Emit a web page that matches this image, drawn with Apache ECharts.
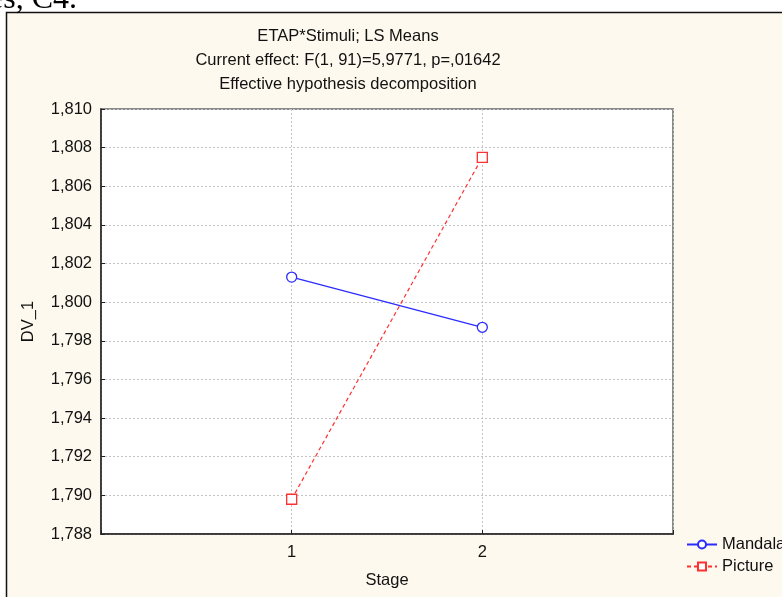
<!DOCTYPE html>
<html lang="en">
<head>
    <meta charset="utf-8">
    <title>ETAP*Stimuli; LS Means</title>
    <script src="https://cdn.jsdelivr.net/npm/echarts@6/dist/echarts.min.js"></script>
    <style>
        html, body { margin: 0; padding: 0; background: #fff; }
        #container { width: 782px; height: 597px; }
    </style>
</head>
<body>
<div id="container"></div>
<script>
    // data
    var stages = [1, 2];
    var stageLabels = ['1', '2'];
    var seriesNames = ['Mandala', 'Picture'];
    var mandala = [1.8013, 1.7987];
    var picture = [1.7898, 1.8075];
    var titleLines = [
        'ETAP*Stimuli; LS Means',
        'Current effect: F(1, 91)=5,9771, p=,01642',
        'Effective hypothesis decomposition'
    ];

    function pairs(vals) {
        return stages.map(function (s, i) { return [s, vals[i]]; });
    }

    var font = 'Liberation Sans, Arial, sans-serif';
    var fs = 16.5;
    var myChart = echarts.init(document.getElementById('container'));

    var option = {
        animation: false,
        backgroundColor: '#fff',
        textStyle: { fontFamily: font },
        graphic: [
            {
                type: 'rect', z: -10, silent: true,
                shape: { x: 6.5, y: 12.5, width: 800, height: 600 },
                style: { fill: '#fef9ee', stroke: '#111', lineWidth: 1.5 }
            },
            {
                type: 'text', left: -11, top: -16, silent: true,
                style: { text: 'es, C4.', font: '32px "Liberation Serif", "Times New Roman", serif', fill: '#000' }
            },
            {
                type: 'text', silent: true,
                x: 348, y: 24,
                style: {
                    text: titleLines.join('\n'), font: fs + 'px ' + font, fill: '#111',
                    align: 'center', lineHeight: 24
                }
            }
        ],
        grid: {
            left: 101, top: 109, width: 572, height: 425,
            show: true, backgroundColor: '#fff', borderColor: '#8a8a8a', borderWidth: 2
        },
        legend: {
            orient: 'vertical', left: 681, top: 531,
            itemWidth: 30, itemHeight: 10, itemGap: 5,
            data: seriesNames,
            textStyle: { fontSize: fs, color: '#111', fontFamily: font }
        },
        xAxis: {
            type: 'value', min: 0, max: 3, interval: 1,
            name: 'Stage', nameLocation: 'middle', nameGap: 38,
            nameTextStyle: { fontSize: fs, color: '#111' },
            axisLine: { lineStyle: { color: '#222', width: 1.5 } },
            axisTick: { inside: true, length: 4, lineStyle: { color: '#222' } },
            axisLabel: {
                fontSize: fs, color: '#111', margin: 10,
                formatter: function (v) {
                    var i = stages.indexOf(v);
                    return i >= 0 ? stageLabels[i] : '';
                }
            },
            splitLine: { lineStyle: { color: '#c4c4c4', type: [2, 2] } }
        },
        yAxis: {
            type: 'value', min: 1.788, max: 1.810, interval: 0.002,
            name: 'DV_1', nameLocation: 'middle', nameGap: 64,
            nameTextStyle: { fontSize: fs, color: '#111' },
            axisLine: { show: true, lineStyle: { color: '#222', width: 1.5 } },
            axisTick: { show: true, inside: true, length: 4, lineStyle: { color: '#222' } },
            axisLabel: {
                fontSize: fs, color: '#111', margin: 9,
                formatter: function (v) { return v.toFixed(3).replace('.', ','); }
            },
            splitLine: { lineStyle: { color: '#c4c4c4', type: [2, 2] } }
        },
        series: [
            {
                name: seriesNames[0], type: 'line', data: pairs(mandala),
                symbol: 'circle', symbolSize: 10, showAllSymbol: true,
                itemStyle: { color: '#fff', borderColor: '#2b2bff', borderWidth: 1.3 },
                lineStyle: { color: '#2b2bff', width: 1.3 }
            },
            {
                name: seriesNames[1], type: 'line', data: pairs(picture),
                symbol: 'rect', symbolSize: 10, showAllSymbol: true,
                itemStyle: { color: '#fff', borderColor: '#ff3030', borderWidth: 1.3 },
                lineStyle: { color: '#ff3030', width: 1.2, type: [4, 3] }
            }
        ]
    };

    if (option && typeof option === "object") {
        myChart.setOption(option, true);
    }
</script>
</body>
</html>
